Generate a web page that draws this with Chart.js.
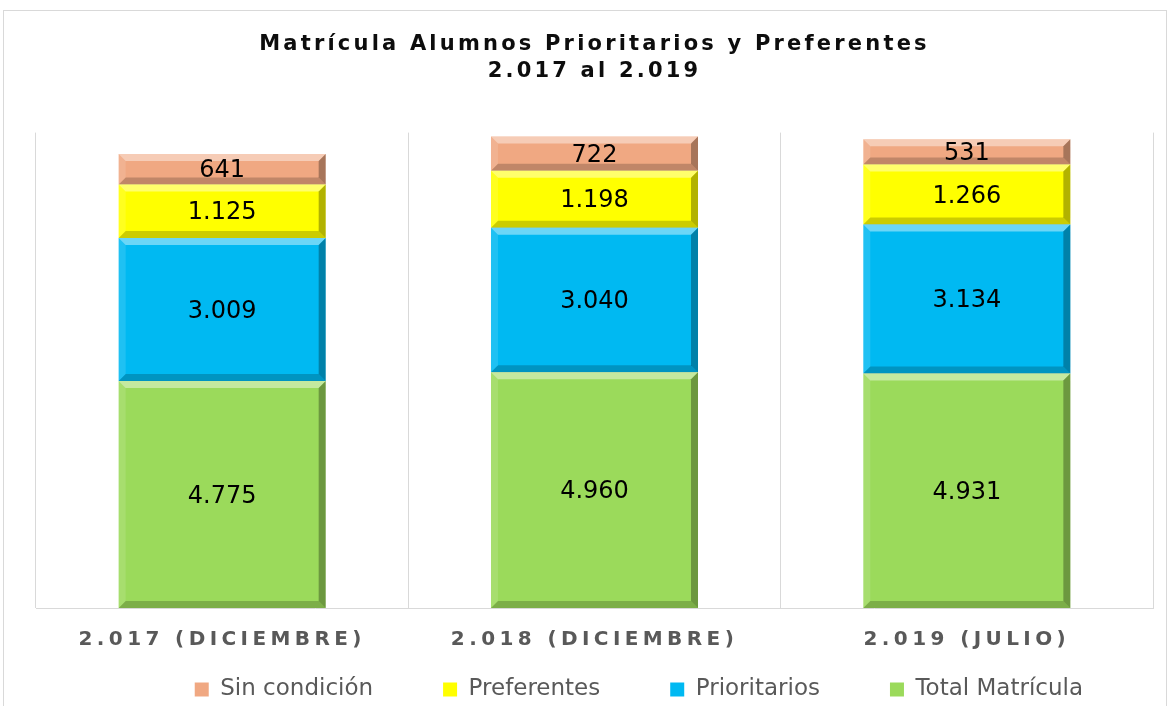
<!DOCTYPE html>
<html>
<head>
<meta charset="utf-8">
<script src="https://cdn.jsdelivr.net/npm/chart.js@4"></script>
<style>
  html, body { margin: 0; padding: 0; background: #fff; overflow: hidden; }
  #wrap { position: relative; width: 1170px; height: 706px; overflow: hidden; }
  #frame { position: absolute; left: 3px; top: 10px; width: 1162px; height: 720px; border: 1px solid #d9d9d9; pointer-events: none; }
  canvas { position: absolute; left: 0; top: 0; }
</style>
</head>
<body>
<div id="wrap">
  <canvas id="myChart" width="1170" height="711"></canvas>
  <div id="frame"></div>
</div>
<script>
var categories = ["2.017 (DICIEMBRE)", "2.018 (DICIEMBRE)", "2.019 (JULIO)"];
var totalMatricula = [4775, 4960, 4931];
var prioritarios = [3009, 3040, 3134];
var preferentes = [1125, 1198, 1266];
var sinCondicion = [641, 722, 531];
var titleLines = ["Matrícula Alumnos Prioritarios y Preferentes", "2.017 al 2.019"];
var yMax = 10000;

var fam = "'DejaVu Sans', Verdana, sans-serif";

function fmt(v) {
    return String(v).replace(/\B(?=(\d{3})+(?!\d))/g, '.');
}

var ctx = document.getElementById('myChart').getContext('2d');

// bold text (title, axis labels) is letter-spaced like the original
var origFill = ctx.fillText, origMeasure = ctx.measureText;
function spacing(c) {
    var f = c.font;
    if (!/bold|700/.test(f)) c.letterSpacing = '0px';
    else c.letterSpacing = /21px/.test(f) ? '3.2px' : '4.4px';
}
ctx.fillText = function(t, x, y, w) {
    spacing(this);
    return w === undefined ? origFill.call(this, t, x, y) : origFill.call(this, t, x, y, w);
};
ctx.measureText = function(t) {
    spacing(this);
    return origMeasure.call(this, t);
};

function poly(c, pts, color) {
    c.beginPath();
    c.moveTo(pts[0][0], pts[0][1]);
    for (var k = 1; k < pts.length; k++) c.lineTo(pts[k][0], pts[k][1]);
    c.closePath();
    c.fillStyle = color;
    c.fill();
}

// bevel look + value labels
var bevel = {
    id: 'bevel',
    afterDatasetsDraw: function(chart) {
        var c = chart.ctx;
        c.save();
        chart.data.datasets.forEach(function(ds, i) {
            chart.getDatasetMeta(i).data.forEach(function(bar, j) {
                var p = bar.getProps(['x', 'y', 'base', 'width'], true);
                var l = p.x - p.width / 2, r = p.x + p.width / 2;
                var t = Math.min(p.y, p.base), b = Math.max(p.y, p.base), s = 7;
                poly(c, [[l, t], [r, t], [r - s, t + s], [l + s, t + s]], 'rgba(255,255,255,0.42)');
                poly(c, [[l, t], [l + s, t + s], [l + s, b - s], [l, b]], 'rgba(255,255,255,0.12)');
                poly(c, [[r, t], [r, b], [r - s, b - s], [r - s, t + s]], 'rgba(0,0,0,0.3)');
                poly(c, [[l, b], [r, b], [r - s, b - s], [l + s, b - s]], 'rgba(0,0,0,0.2)');
                c.font = "24px " + fam;
                c.fillStyle = '#000';
                c.textAlign = 'center';
                c.textBaseline = 'middle';
                c.fillText(fmt(ds.data[j]), p.x, (t + b) / 2 + 2);
            });
        });
        c.restore();
    }
};

var chart = new Chart(ctx, {
    type: 'bar',
    data: {
        labels: categories,
        datasets: [
            { label: 'Total Matrícula', data: totalMatricula, backgroundColor: '#9BDA5B' },
            { label: 'Prioritarios', data: prioritarios, backgroundColor: '#00B9F2' },
            { label: 'Preferentes', data: preferentes, backgroundColor: '#FFFF00' },
            { label: 'Sin condición', data: sinCondicion, backgroundColor: '#F0A882' }
        ]
    },
    options: {
        responsive: false,
        animation: false,
        layout: { padding: { left: 36, right: 17, top: 0, bottom: 0 } },
        datasets: { bar: { categoryPercentage: 1, barPercentage: 0.556, borderWidth: 0 } },
        scales: {
            x: {
                stacked: true,
                grid: { color: '#d9d9d9', offset: true, drawTicks: false },
                border: { color: '#d9d9d9' },
                ticks: { color: '#595959', mirror: true, padding: -44, font: { family: fam, size: 20, weight: 'bold' } },
                afterFit: function(scale) { scale.height = 0; }
            },
            y: { stacked: true, display: false, min: 0, max: yMax }
        },
        plugins: {
            title: {
                display: true,
                text: titleLines,
                color: '#0d0d0d',
                font: { family: fam, size: 21, weight: 'bold', lineHeight: 1.3 },
                padding: { top: 31, bottom: 47 }
            },
            legend: {
                position: 'bottom',
                align: 'end',
                reverse: true,
                labels: {
                    boxWidth: 14,
                    boxHeight: 14,
                    padding: 70,
                    color: '#595959',
                    font: { family: fam, size: 23 }
                }
            },
            tooltip: { enabled: false }
        }
    },
    plugins: [bevel]
});
</script>
</body>
</html>
